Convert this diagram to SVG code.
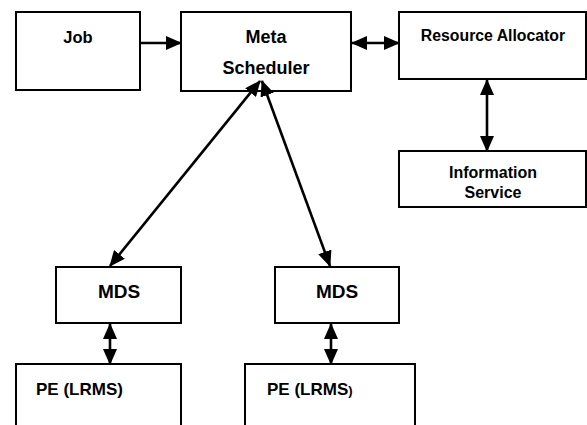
<svg xmlns="http://www.w3.org/2000/svg" width="587" height="425" viewBox="0 0 587 425">
<style>
.box{fill:#fff;stroke:#000;stroke-width:2}
.t{font-family:"Liberation Sans",Arial,sans-serif;font-weight:bold;fill:#000;text-anchor:middle}
.ts{font-family:"Liberation Sans",Arial,sans-serif;font-weight:bold;fill:#000}
.c{stroke:#000;stroke-width:2.6;fill:none}
</style>
<defs>
<marker id="ah" markerUnits="userSpaceOnUse" markerWidth="16" markerHeight="14" refX="15" refY="7" orient="auto-start-reverse">
<path d="M0,0 L16,7 L0,14 z" fill="#000"/>
</marker>
</defs>
<rect width="587" height="425" fill="#fff"/>
<g id="job">
<rect class="box" x="16" y="12" width="124" height="78"/>
<text class="t" x="78" y="43" font-size="16.5">Job</text>
</g>
<g id="meta">
<rect class="box" x="181" y="12" width="170" height="79"/>
<text class="t" x="266" y="43" font-size="18">Meta</text>
<text class="t" x="266" y="74" font-size="18">Scheduler</text>
</g>
<g id="ra">
<rect class="box" x="399" y="12" width="187" height="67"/>
<text class="t" x="493" y="41" font-size="15.8">Resource Allocator</text>
</g>
<g id="info">
<rect class="box" x="399" y="151" width="187" height="56"/>
<text class="t" x="493" y="178" font-size="16">Information</text>
<text class="t" x="493" y="198" font-size="16">Service</text>
</g>
<g id="mds1">
<rect class="box" x="56" y="267" width="125" height="56"/>
<text class="t" x="119" y="298" font-size="19">MDS</text>
</g>
<g id="mds2">
<rect class="box" x="275" y="267" width="124" height="56"/>
<text class="t" x="337" y="298" font-size="19">MDS</text>
</g>
<g id="pe1">
<path class="box" d="M16,426 V364 H181 V426"/>
<text class="ts" x="36" y="395" font-size="17">PE (LRMS)</text>
</g>
<g id="pe2">
<path class="box" d="M245,426 V364 H415 V426"/>
<text class="ts" x="267" y="395" font-size="17">PE (LRMS<tspan font-size="13">)</tspan></text>
</g>
<g id="connectors">
<line class="c" x1="140" y1="43" x2="181" y2="43" marker-end="url(#ah)"/>
<line class="c" x1="352" y1="43" x2="399" y2="43" marker-start="url(#ah)" marker-end="url(#ah)"/>
<line class="c" x1="487" y1="80" x2="487" y2="151" marker-start="url(#ah)" marker-end="url(#ah)"/>
<line class="c" x1="110" y1="266" x2="260" y2="81" marker-start="url(#ah)" marker-end="url(#ah)"/>
<line class="c" x1="262" y1="81" x2="330" y2="266" marker-start="url(#ah)" marker-end="url(#ah)"/>
<line class="c" x1="110" y1="324" x2="110" y2="364" marker-start="url(#ah)" marker-end="url(#ah)"/>
<line class="c" x1="331" y1="324" x2="331" y2="364" marker-start="url(#ah)" marker-end="url(#ah)"/>
</g>
</svg>
